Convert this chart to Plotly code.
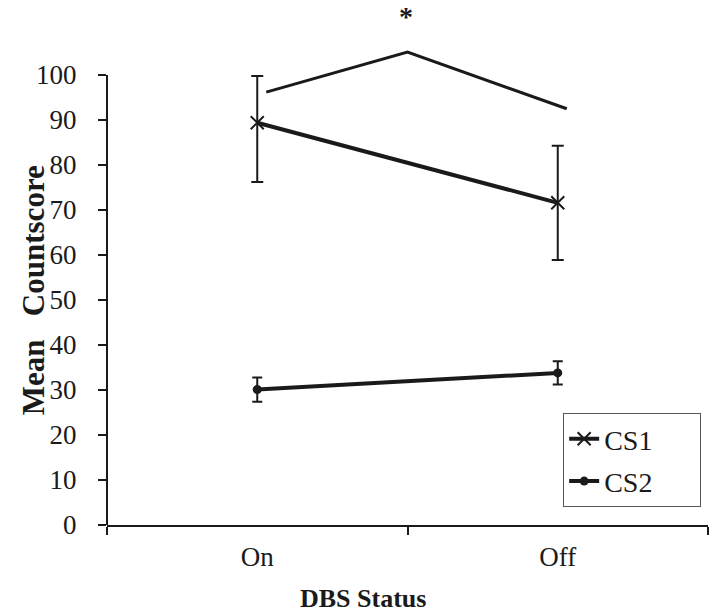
import plotly.graph_objects as go

categories = ["On", "Off"]
cs1_mean = [89.4, 71.6]
cs1_err_plus = [10.4, 12.7]
cs1_err_minus = [13.2, 12.7]
cs2_mean = [30.1, 33.8]
cs2_err = [2.7, 2.6]
sig_x = [0.03, 0.5, 1.03]
sig_y = [96.2, 105.1, 92.5]
y_ticks = list(range(0, 101, 10))

FONT = "Liberation Serif"
INK = "#1a1a1a"
PAD = "&nbsp;" * 6

fig = go.Figure()
fig.add_trace(go.Scatter(
    x=categories, y=cs1_mean, name="CS1" + PAD, mode="lines+markers",
    line=dict(color=INK, width=4),
    marker=dict(symbol="x-thin", size=13, color=INK, line=dict(color=INK, width=2)),
    error_y=dict(type="data", symmetric=False, array=cs1_err_plus, arrayminus=cs1_err_minus,
                 color=INK, thickness=2, width=6),
    legendgroup="a",
))
fig.add_trace(go.Scatter(
    x=categories, y=cs2_mean, name="CS2" + PAD, mode="lines+markers",
    line=dict(color=INK, width=4),
    marker=dict(symbol="circle", size=9, color=INK),
    error_y=dict(type="data", array=cs2_err, color=INK, thickness=2, width=5),
    legendgroup="b",
))
fig.add_trace(go.Scatter(
    x=sig_x, y=sig_y, xaxis="x2", mode="lines", showlegend=False,
    line=dict(color=INK, width=3), hoverinfo="skip",
))

fig.update_layout(
    width=710, height=614,
    margin=dict(l=107, r=2, t=0, b=89, autoexpand=False),
    paper_bgcolor="white", plot_bgcolor="white",
    font=dict(family=FONT, size=26, color=INK),
    xaxis=dict(
        type="category", range=[-0.5, 1.5], tickson="boundaries", automargin=False,
        ticks="outside", ticklen=8, tickwidth=2, tickcolor=INK,
        showline=True, linecolor=INK, linewidth=2, showgrid=False, zeroline=False,
        ticklabelstandoff=7, tickfont=dict(family=FONT, size=27, color=INK),
    ),
    xaxis2=dict(overlaying="x", range=[-0.5, 1.5], visible=False),
    yaxis=dict(
        range=[0, 116.67], tickvals=y_ticks, ticks="outside", ticklen=8, tickwidth=2,
        tickcolor=INK, showline=False, showgrid=False, zeroline=False, automargin=False,
        ticklabelstandoff=16, tickfont=dict(family=FONT, size=27, color=INK),
    ),
    legend=dict(
        x=0.759, y=0.2133, xanchor="left", yanchor="top",
        bgcolor="white", bordercolor="#555", borderwidth=1,
        font=dict(family=FONT, size=28, color=INK), tracegroupgap=3,
    ),
    shapes=[dict(type="line", xref="paper", yref="y", x0=0, x1=0, y0=0, y1=100,
                 line=dict(color=INK, width=2))],
    annotations=[
        dict(text="<b>*</b>", xref="paper", yref="paper", x=0.497, y=1.0, showarrow=False,
             font=dict(family=FONT, size=28, color=INK), yanchor="top", borderpad=0),
        dict(text="<b>DBS Status</b>", xref="paper", yref="paper", x=0.426, y=-0.108,
             yanchor="top", showarrow=False, font=dict(family=FONT, size=26, color=INK)),
        dict(text="<b>Mean&nbsp;&nbsp;&nbsp;Countscore</b>", xref="paper", yref="paper",
             x=-0.155, y=0.448, textangle=-90, showarrow=False,
             font=dict(family=FONT, size=31, color=INK)),
    ],
)

fig.write_html("out.html", config={"displayModeBar": False},
               post_script="document.body.style.margin='0';")
